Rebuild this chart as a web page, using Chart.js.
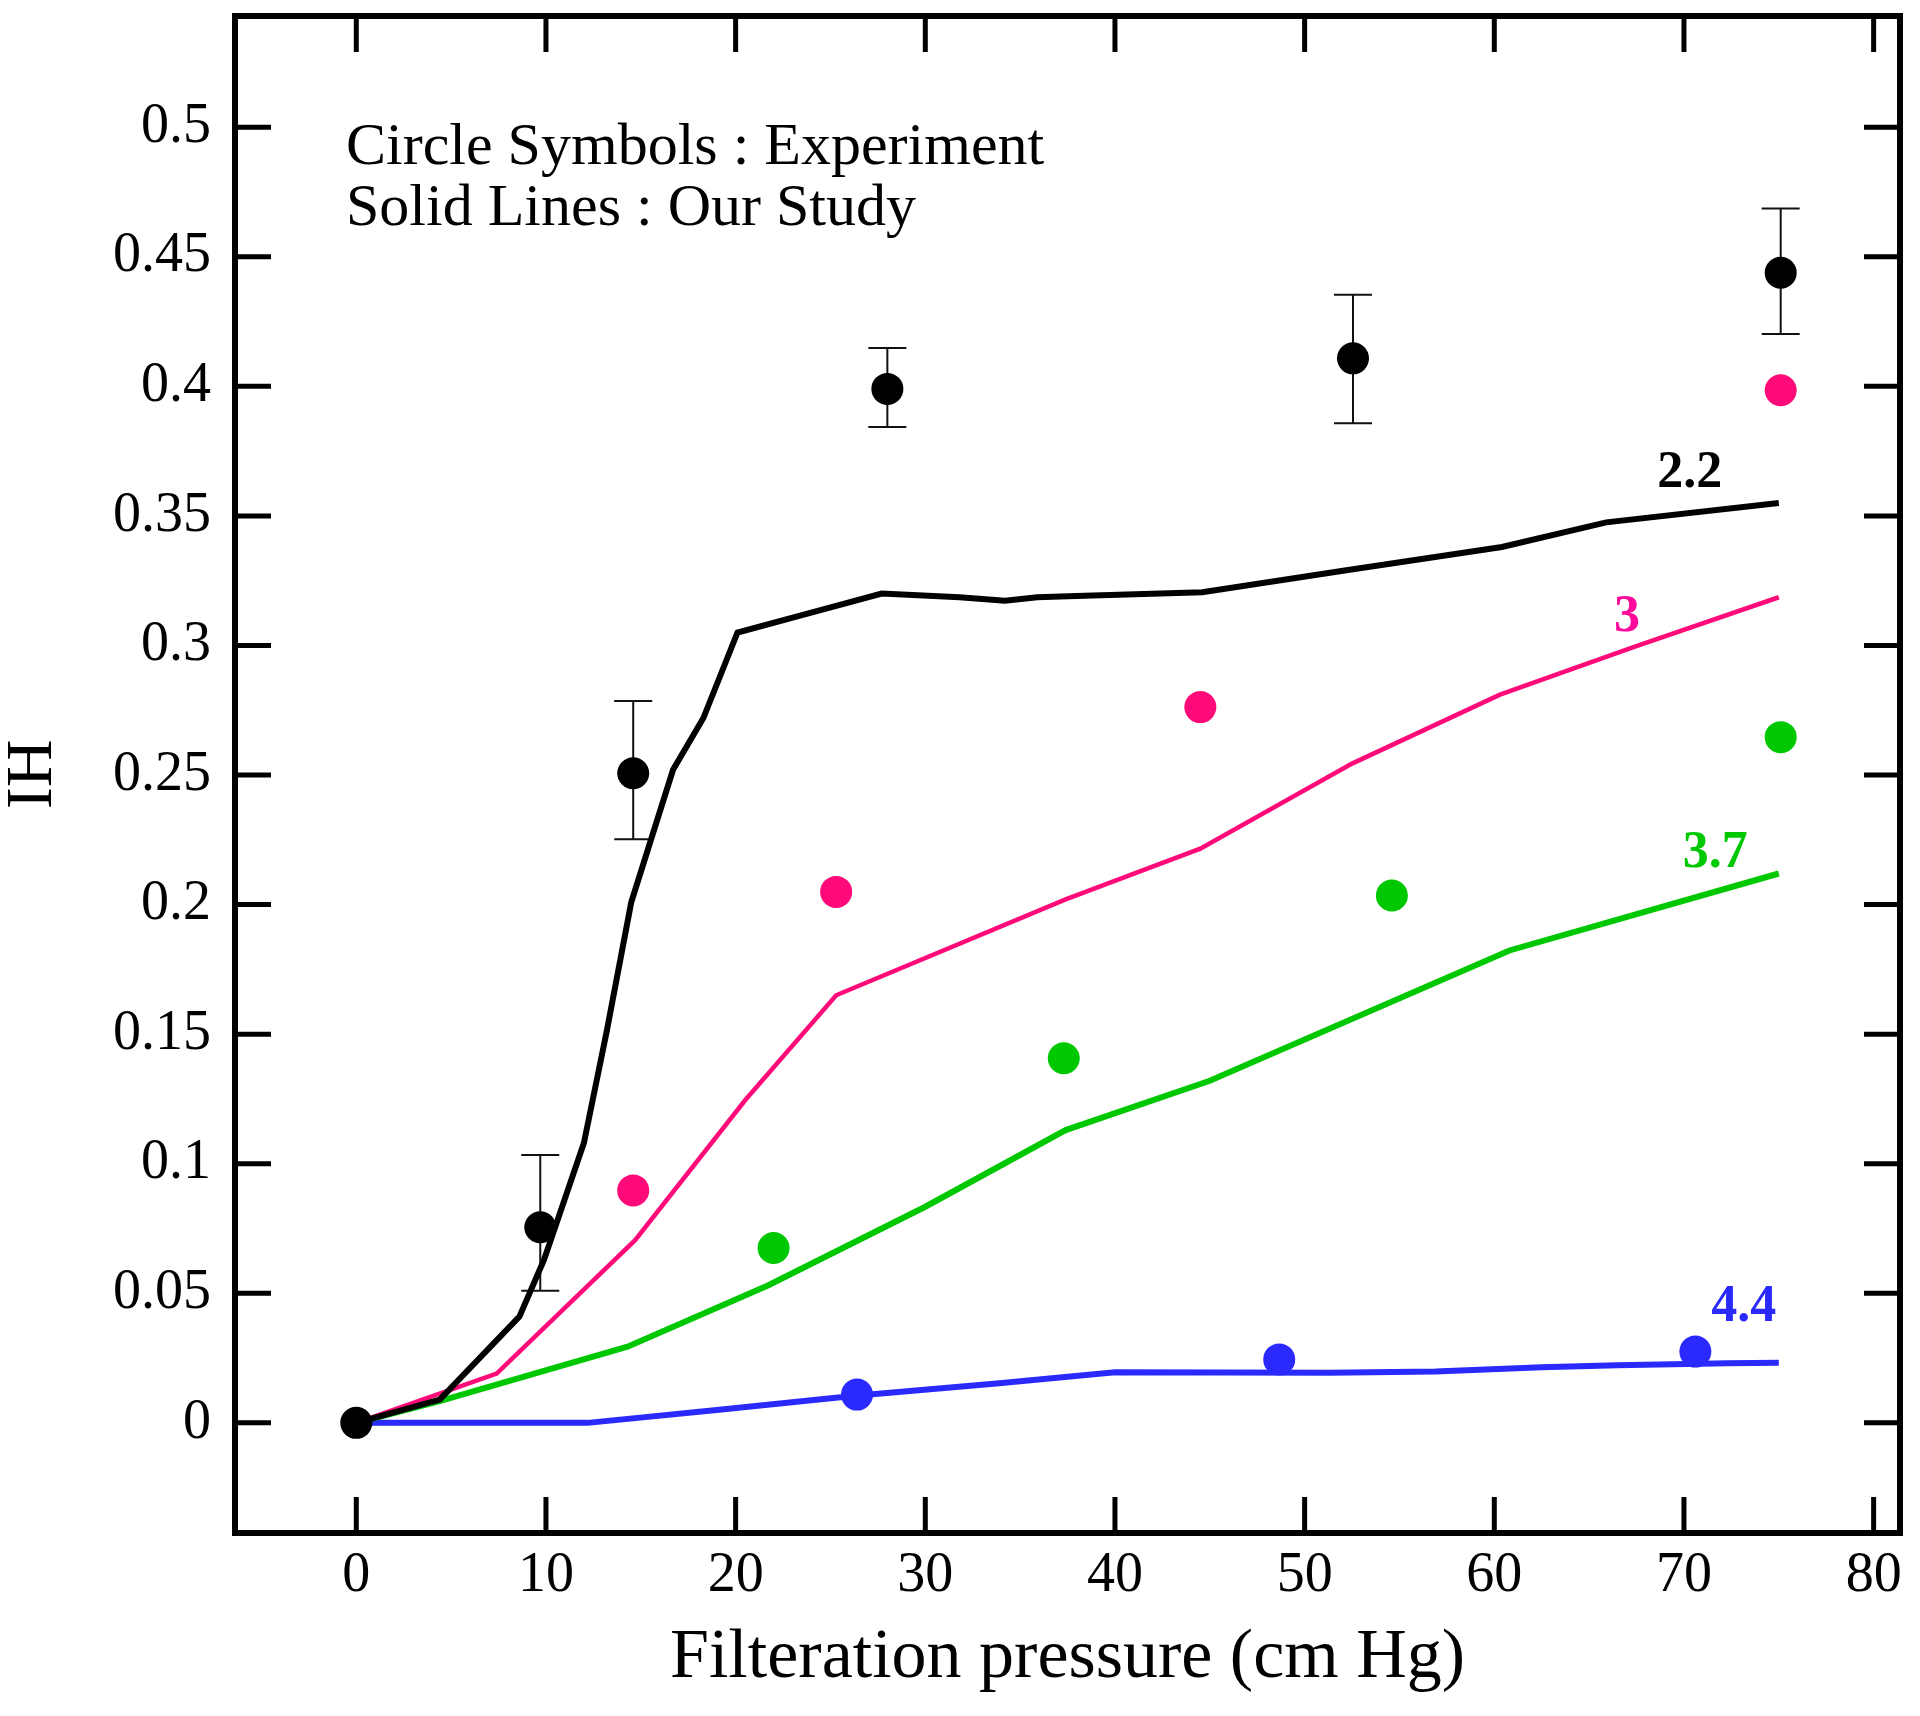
<!DOCTYPE html>
<html>
<head>
<meta charset="utf-8">
<title>IH vs filteration pressure</title>
<script src="https://cdn.jsdelivr.net/npm/chart.js@4.4.1/dist/chart.umd.min.js"></script>
<style>
  html, body { margin: 0; padding: 0; background: #fff; }
  #wrap { width: 1920px; height: 1716px; }
</style>
</head>
<body>
<div id="wrap"><canvas id="ihChart" width="1920" height="1716"></canvas></div>
<script>
// axis ticks
const xTickValues = [0, 10, 20, 30, 40, 50, 60, 70, 80];
const yTickValues = [0, 0.05, 0.1, 0.15, 0.2, 0.25, 0.3, 0.35, 0.4, 0.45, 0.5];

// solid lines (our study)
const line22X = [0, 4.4, 8.6, 9.9, 12.0, 13.2, 14.5, 16.7, 18.3, 20.1, 23.4, 27.7, 31.8, 34.2, 35.9, 38.4, 44.6, 52.2, 60.4, 65.9, 75];
const line22Y = [0, 0.009, 0.041, 0.063, 0.108, 0.151, 0.201, 0.252, 0.272, 0.305, 0.3115, 0.320, 0.3186, 0.3173, 0.3186, 0.3192, 0.3205, 0.329, 0.338, 0.3475, 0.355];

const line3X = [0, 7.4, 14.7, 20.5, 25.3, 37.4, 44.5, 52.5, 60.3, 67.3, 75];
const line3Y = [0, 0.019, 0.0705, 0.1245, 0.165, 0.202, 0.2216, 0.2544, 0.281, 0.2993, 0.3186];

const line37X = [0, 4.3, 14.3, 21.7, 30.0, 37.4, 45.0, 60.8, 75];
const line37Y = [0, 0.0082, 0.0294, 0.053, 0.0834, 0.113, 0.132, 0.1823, 0.212];

const line44X = [0, 12.2, 19.0, 26.3, 33.9, 40.0, 51.3, 56.9, 62.5, 66.5, 72.3, 75];
const line44Y = [0, 0, 0.005, 0.0105, 0.0153, 0.0195, 0.0193, 0.0198, 0.0215, 0.0222, 0.023, 0.0232];

// circle symbols (experiment)
const exp22X = [0, 9.7, 14.6, 28.0, 52.55, 75.1];
const exp22Y = [0, 0.0755, 0.2507, 0.399, 0.4108, 0.4438];
const exp22Low = [0, 0.051, 0.2252, 0.3843, 0.3857, 0.4202];
const exp22High = [0, 0.1034, 0.2786, 0.4148, 0.4353, 0.4686];

const exp3X = [14.6, 25.3, 44.5, 75.1];
const exp3Y = [0.0897, 0.2049, 0.2762, 0.3985];

const exp37X = [22.0, 37.3, 54.6, 75.1];
const exp37Y = [0.0675, 0.1407, 0.2035, 0.2646];

const exp44X = [26.4, 48.66, 70.6];
const exp44Y = [0.0109, 0.0245, 0.0275];

const BLACK = '#000000';
const PINK = '#ff0a78';
const GREEN = '#00c800';
const BLUE = '#2a2aff';
const SERIF = '"Liberation Serif", "Times New Roman", serif';

function toPoints(xs, ys) {
    return xs.map((v, i) => ({ x: v, y: ys[i] }));
}

function lineSet(xs, ys, color, width) {
    return {
        type: 'scatter',
        data: toPoints(xs, ys),
        showLine: true,
        borderColor: color,
        borderWidth: width,
        pointRadius: 0,
        tension: 0,
        order: 1
    };
}

function dotSet(xs, ys, color) {
    return {
        type: 'scatter',
        data: toPoints(xs, ys),
        showLine: false,
        backgroundColor: color,
        borderWidth: 0,
        pointRadius: 16,
        pointStyle: 'circle',
        order: 0
    };
}

// error bars on the black experiment points
const errorBars = {
    id: 'errorBars',
    beforeDatasetsDraw(chart) {
        const { ctx, scales: { x, y } } = chart;
        ctx.save();
        ctx.strokeStyle = '#111';
        ctx.lineWidth = 2;
        exp22X.forEach((v, i) => {
            if (exp22High[i] === exp22Low[i]) return;
            const cx = x.getPixelForValue(v);
            const top = y.getPixelForValue(exp22High[i]);
            const bot = y.getPixelForValue(exp22Low[i]);
            ctx.beginPath();
            ctx.moveTo(cx, top); ctx.lineTo(cx, bot);
            ctx.moveTo(cx - 19, top); ctx.lineTo(cx + 19, top);
            ctx.moveTo(cx - 19, bot); ctx.lineTo(cx + 19, bot);
            ctx.stroke();
        });
        ctx.restore();
    }
};

// box frame with inward ticks on all four sides
const frameTicks = {
    id: 'frameTicks',
    afterDraw(chart) {
        const { ctx, chartArea: a, scales: { x, y } } = chart;
        const len = 36;
        ctx.save();
        ctx.strokeStyle = BLACK;
        ctx.lineWidth = 5;
        ctx.beginPath();
        xTickValues.forEach(v => {
            const px = x.getPixelForValue(v);
            ctx.moveTo(px, a.bottom); ctx.lineTo(px, a.bottom - len);
            ctx.moveTo(px, a.top); ctx.lineTo(px, a.top + len);
        });
        yTickValues.forEach(v => {
            const py = y.getPixelForValue(v);
            ctx.moveTo(a.left, py); ctx.lineTo(a.left + len, py);
            ctx.moveTo(a.right, py); ctx.lineTo(a.right - len, py);
        });
        ctx.stroke();
        ctx.lineWidth = 6;
        ctx.strokeRect(a.left, a.top, a.right - a.left, a.bottom - a.top);
        ctx.restore();
    }
};

// curve labels and the note text
const curveLabels = [
    { text: '2.2', x: 70.3, y: 0.361, color: BLACK },
    { text: '3', x: 67.0, y: 0.3057, color: '#ff0a9a' },
    { text: '3.7', x: 71.65, y: 0.2145, color: GREEN },
    { text: '4.4', x: 73.15, y: 0.0394, color: BLUE }
];
const noteLines = ['Circle Symbols : Experiment', 'Solid Lines : Our Study'];

const textPlugin = {
    id: 'texts',
    afterDatasetsDraw(chart) {
        const { ctx, chartArea: a, scales: { x, y } } = chart;
        ctx.save();
        ctx.textBaseline = 'alphabetic';
        ctx.textAlign = 'center';
        ctx.font = 'bold 52px ' + SERIF;
        curveLabels.forEach(l => {
            ctx.fillStyle = l.color;
            ctx.fillText(l.text, x.getPixelForValue(l.x), y.getPixelForValue(l.y));
        });
        ctx.textAlign = 'left';
        ctx.fillStyle = BLACK;
        ctx.font = '60px ' + SERIF;
        noteLines.forEach((t, i) => {
            ctx.fillText(t, a.left + 111, a.top + 148 + i * 61);
        });
        ctx.restore();
    }
};

const config = {
    type: 'scatter',
    data: {
        datasets: [
            dotSet(exp22X, exp22Y, BLACK),
            dotSet(exp3X, exp3Y, PINK),
            dotSet(exp37X, exp37Y, GREEN),
            dotSet(exp44X, exp44Y, BLUE),
            lineSet(line22X, line22Y, BLACK, 6),
            lineSet(line3X, line3Y, PINK, 4.5),
            lineSet(line37X, line37Y, GREEN, 6),
            lineSet(line44X, line44Y, BLUE, 6)
        ]
    },
    options: {
        responsive: false,
        animation: false,
        devicePixelRatio: 1,
        layout: { padding: { left: 0, right: 20, top: 15, bottom: 0 } },
        plugins: {
            legend: { display: false },
            tooltip: { enabled: false }
        },
        scales: {
            x: {
                type: 'linear',
                min: -6.395,
                max: 81.39,
                grid: { display: false, drawTicks: false },
                border: { display: false },
                afterBuildTicks: s => { s.ticks = xTickValues.map(v => ({ value: v })); },
                afterFit: s => { s.height = 183; s.paddingLeft = 0; s.paddingRight = 0; },
                ticks: {
                    padding: 10,
                    color: BLACK,
                    font: { family: SERIF, size: 56 },
                    callback: v => String(v)
                },
                title: {
                    display: true,
                    text: 'Filteration pressure (cm Hg)',
                    color: BLACK,
                    font: { family: SERIF, size: 70 },
                    padding: { top: 0, bottom: 15 }
                }
            },
            y: {
                type: 'linear',
                min: -0.0425,
                max: 0.5429,
                grid: { display: false, drawTicks: false },
                border: { display: false },
                afterBuildTicks: s => { s.ticks = yTickValues.map(v => ({ value: v })); },
                afterFit: s => { s.width = 235; s.paddingTop = 0; s.paddingBottom = 0; },
                ticks: {
                    padding: 24,
                    color: BLACK,
                    font: { family: SERIF, size: 56 },
                    callback: v => String(Number(v.toFixed(2)))
                },
                title: {
                    display: true,
                    text: 'IH',
                    color: BLACK,
                    font: { family: SERIF, size: 66, lineHeight: 1 },
                    padding: { top: 1, bottom: 0 }
                }
            }
        }
    },
    plugins: [errorBars, textPlugin, frameTicks]
};

const ihChart = new Chart(document.getElementById('ihChart'), config);
</script>
</body>
</html>
